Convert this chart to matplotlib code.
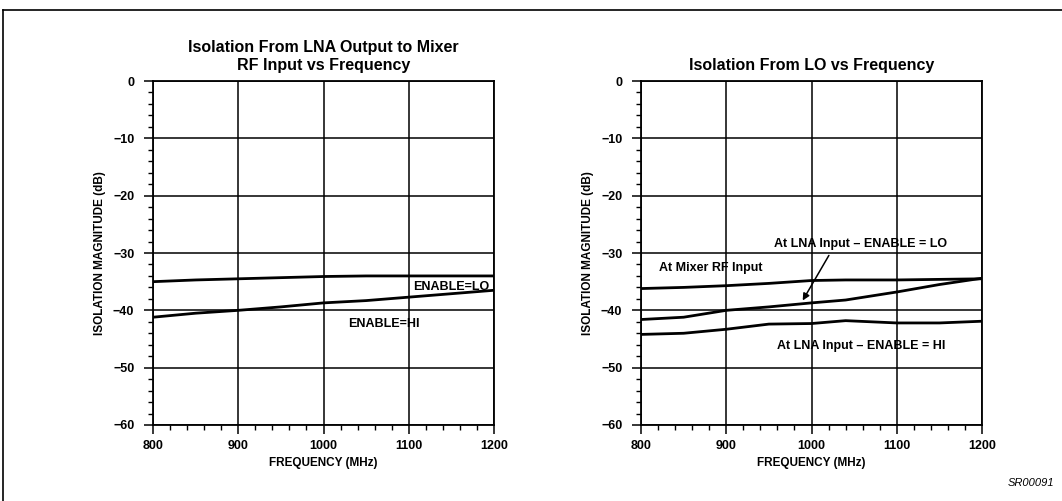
import matplotlib
matplotlib.use("Agg")
import matplotlib.pyplot as plt
from matplotlib.lines import Line2D
from matplotlib.ticker import MultipleLocator

plt.rcParams["font.family"] = ["Liberation Sans", "DejaVu Sans"]
plt.rcParams["font.weight"] = "bold"

# Left panel: LNA output -> mixer RF input
freq_left = [800, 850, 900, 950, 1000, 1050, 1100, 1150, 1200]
enable_lo = [-35.0, -34.7, -34.5, -34.3, -34.1, -34.0, -34.0, -34.0, -34.0]
enable_hi = [-41.2, -40.5, -40.0, -39.4, -38.7, -38.3, -37.7, -37.1, -36.5]

# Right panel: LO isolation
freq_right = [800, 850, 900, 950, 1000, 1040, 1100, 1150, 1200]
mixer_rf = [-36.2, -36.0, -35.7, -35.3, -34.8, -34.7, -34.7, -34.6, -34.5]
lna_lo = [-41.6, -41.2, -40.0, -39.4, -38.7, -38.2, -36.8, -35.5, -34.4]
lna_hi = [-44.2, -44.0, -43.3, -42.4, -42.3, -41.8, -42.2, -42.2, -41.9]

titles = ["Isolation From LNA Output to Mixer\nRF Input vs Frequency",
          "Isolation From LO vs Frequency"]

fig = plt.figure(figsize=(10.62, 5.01), dpi=100)
fig.patch.set_facecolor("white")

ax1 = fig.add_axes([0.1441, 0.1517, 0.3211, 0.6866])
ax2 = fig.add_axes([0.6036, 0.1517, 0.3211, 0.6866])

for ax, title in zip([ax1, ax2], titles):
    ax.set_xlim(800, 1200)
    ax.set_ylim(-60, 0)
    ax.xaxis.set_major_locator(MultipleLocator(100))
    ax.xaxis.set_minor_locator(MultipleLocator(20))
    ax.yaxis.set_major_locator(MultipleLocator(10))
    ax.yaxis.set_minor_locator(MultipleLocator(2))
    ax.grid(True, which="major", color="black", lw=1.1)
    ax.tick_params(which="major", direction="out", length=6.5, width=1.1,
                   labelsize=9, pad=4, top=False, right=False)
    ax.tick_params(axis="y", which="major", pad=7)
    ax.tick_params(which="minor", direction="out", length=3.5, width=1.0)
    for lab in ax.get_xticklabels() + ax.get_yticklabels():
        lab.set_fontweight("bold")
    for sp in ax.spines.values():
        sp.set_linewidth(1.3)
    ax.set_xlabel("FREQUENCY (MHz)", fontsize=8.5, fontweight="bold", labelpad=4)
    ax.set_ylabel("ISOLATION MAGNITUDE (dB)", fontsize=8.5, fontweight="bold", labelpad=5)
    ax.set_title(title, fontsize=11.5, fontweight="bold", pad=8, linespacing=1.25)

ax1.plot(freq_left, enable_lo, color="black", lw=2)
ax1.plot(freq_left, enable_hi, color="black", lw=2)
ax1.text(1195, -35.9, "ENABLE=LO", ha="right", va="center", fontsize=9, fontweight="bold")
ax1.text(1071, -42.3, "ENABLE=HI", ha="center", va="center", fontsize=9, fontweight="bold")

ax2.plot(freq_right, mixer_rf, color="black", lw=2)
ax2.plot(freq_right, lna_lo, color="black", lw=2)
ax2.plot(freq_right, lna_hi, color="black", lw=2)
ax2.text(821, -32.7, "At Mixer RF Input", ha="left", va="center", fontsize=9, fontweight="bold")
ax2.text(1058, -28.4, "At LNA Input – ENABLE = LO", ha="center", va="center",
         fontsize=9, fontweight="bold")
ax2.text(1058, -46.2, "At LNA Input – ENABLE = HI", ha="center", va="center",
         fontsize=9, fontweight="bold")
ax2.annotate("", xy=(988, -38.7), xytext=(1022, -30.0),
             arrowprops=dict(arrowstyle="-|>", color="black", lw=1.1, mutation_scale=10))

# page frame and figure number
fig.add_artist(Line2D([0.003, 1.0], [0.98, 0.98], color="black", lw=1.2))
fig.add_artist(Line2D([0.003, 0.003], [0.0, 0.98], color="black", lw=1.2))
fig.text(0.993, 0.035, "SR00091", ha="right", va="center", fontsize=8,
         style="italic", fontweight="normal")

fig.savefig("out.png", dpi=100)
